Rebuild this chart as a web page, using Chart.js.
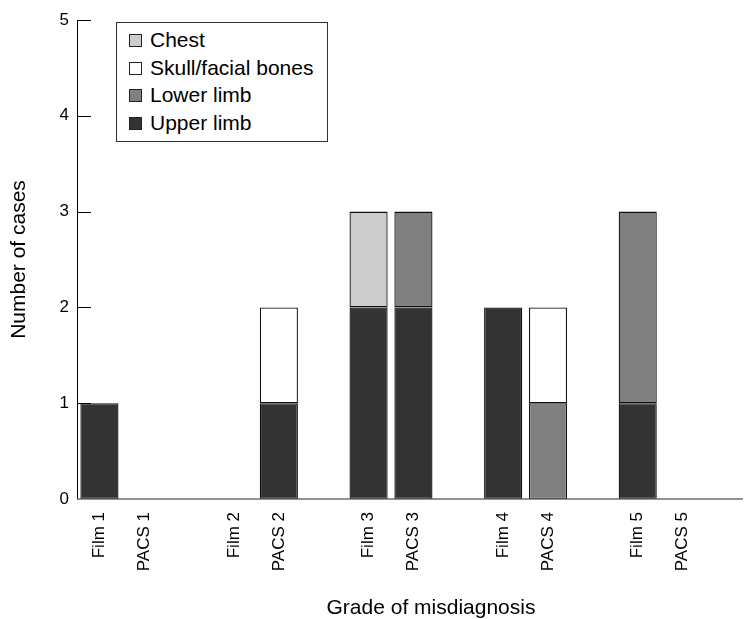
<!DOCTYPE html>
<html>
  <head>
    <meta charset="utf-8">
    <title>Grade of misdiagnosis</title>
    <script src="https://cdn.jsdelivr.net/npm/chart.js@4.4.1/dist/chart.umd.min.js"></script>
    <style>
      html, body { margin: 0; padding: 0; background: #fff; overflow: hidden; }
      #wrap { position: relative; width: 744px; height: 619px; font-family: 'Liberation Sans', Arial, sans-serif; }
      #legend { position: absolute; left: 116px; top: 22px; width: 212px; height: 120px; border: 1px solid #333; background: #fff; box-sizing: border-box; }
      .item { position: absolute; left: 12px; height: 24px; line-height: 24px; font-size: 21px; color: #000; white-space: nowrap; }
      .swatch { display: inline-block; width: 11px; height: 11px; border: 1px solid #222; margin-right: 8px; vertical-align: 0px; }
      #xtitle { position: absolute; left: 311px; top: 595px; width: 240px; text-align: center; font-size: 21px; color: #000; }
    </style>

    <script>
      // categories, blank entries are the gaps between grades
      const categories = ['Film 1', 'PACS 1', '', 'Film 2', 'PACS 2', '', 'Film 3', 'PACS 3', '', 'Film 4', 'PACS 4', '', 'Film 5', 'PACS 5'];

      // number of cases per site (stacked bottom to top: upper, lower, skull, chest)
      const upperLimb = [1, 0, 0, 0, 1, 0, 2, 2, 0, 2, 0, 0, 1, 0];
      const lowerLimb = [0, 0, 0, 0, 0, 0, 0, 1, 0, 0, 1, 0, 2, 0];
      const skullFacial = [0, 0, 0, 0, 1, 0, 0, 0, 0, 0, 1, 0, 0, 0];
      const chest = [0, 0, 0, 0, 0, 0, 1, 0, 0, 0, 0, 0, 0, 0];

      const yTicks = [0, 1, 2, 3, 4, 5];

      const seriesNames = ['Upper limb', 'Lower limb', 'Skull/facial bones', 'Chest'];
      const seriesColours = ['#333333', '#808080', '#ffffff', '#cccccc'];

      function makeChart() {
        const values = [upperLimb, lowerLimb, skullFacial, chest];
        const datasets = values.map((arr, i) => ({
          label: seriesNames[i],
          data: arr.map(v => v || null),
          backgroundColor: seriesColours[i],
          borderColor: '#111',
          borderWidth: 1.3,
          borderSkipped: false,
          categoryPercentage: 1,
          barPercentage: 0.85
        }));

        // legend, drawn top to bottom in reverse stack order
        const legend = document.getElementById('legend');
        for (let i = seriesNames.length - 1, row = 0; i >= 0; i--, row++) {
          legend.innerHTML += '<div class="item" style="top:' + (5 + row * 27.5) + 'px"><span class="swatch" style="background:' + seriesColours[i] + '"></span>' + seriesNames[i] + '</div>';
        }

        // inward tick marks on the y axis and the long grey x axis line
        const axisMarks = {
          id: 'axisMarks',
          afterDatasetsDraw(chart) {
            const ctx = chart.ctx;
            const y = chart.scales.y;
            const area = chart.chartArea;
            ctx.save();
            ctx.strokeStyle = '#000';
            ctx.lineWidth = 1;
            yTicks.forEach(t => {
              if (t === 0) return;
              const py = Math.round(y.getPixelForValue(t)) + 0.5;
              ctx.beginPath();
              ctx.moveTo(area.left, py);
              ctx.lineTo(area.left + 14, py);
              ctx.stroke();
            });
            ctx.strokeStyle = '#6e6e6e';
            ctx.lineWidth = 1.5;
            const by = y.getPixelForValue(0);
            ctx.beginPath();
            ctx.moveTo(area.left, by);
            ctx.lineTo(743, by);
            ctx.stroke();
            ctx.restore();
          }
        };

        new Chart(document.getElementById('chart'), {
          type: 'bar',
          data: { labels: categories, datasets: datasets },
          plugins: [axisMarks],
          options: {
            responsive: false,
            animation: false,
            layout: { padding: { top: 20, right: 39, left: 0, bottom: 0 } },
            plugins: { legend: { display: false }, tooltip: { enabled: false } },
            scales: {
              x: {
                stacked: true,
                grid: { display: false, drawTicks: false },
                border: { display: false },
                ticks: {
                  autoSkip: false, minRotation: 90, maxRotation: 90, padding: 13,
                  color: '#000', font: { family: "'Liberation Sans', Arial, sans-serif", size: 17 }
                },
                afterFit(scale) { scale.height = 120; }
              },
              y: {
                stacked: true,
                min: 0, max: 5,
                grid: { display: false, drawTicks: false },
                border: { display: true, color: '#000', width: 1 },
                ticks: {
                  stepSize: 1, padding: 8, color: '#000',
                  font: { family: "'Liberation Sans', Arial, sans-serif", size: 17 }
                },
                title: {
                  display: true, text: 'Number of cases', color: '#000',
                  font: { family: "'Liberation Sans', Arial, sans-serif", size: 21 },
                  padding: { top: 7, bottom: 0 }
                },
                afterFit(scale) { scale.width = 77; }
              }
            }
          }
        });
      }
    </script>
  </head>

  <body onload="makeChart()">
    <div id="wrap">
      <canvas id="chart" width="744" height="619"></canvas>
      <div id="legend"></div>
      <div id="xtitle">Grade of misdiagnosis</div>
    </div>
  </body>
</html>
